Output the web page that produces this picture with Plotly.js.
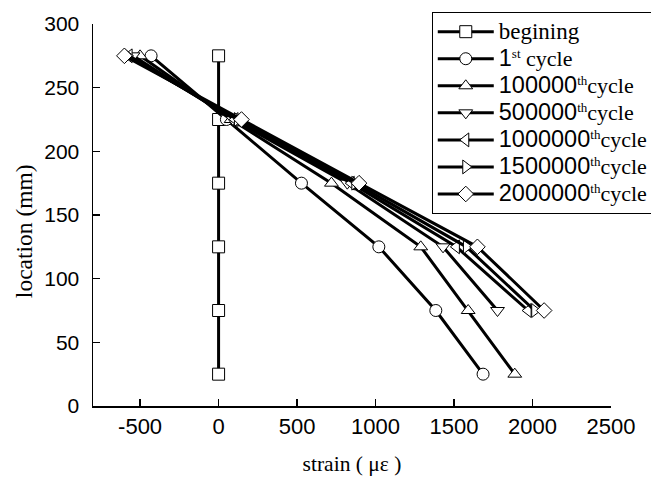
<!DOCTYPE html>
<html>
<head>
<meta charset="utf-8">
<script src="https://cdn.plot.ly/plotly-3.0.1.min.js"></script>
<style>html,body{margin:0;padding:0;background:#fff;}#chart{width:651px;height:483px;}</style>
</head>
<body>
<div id="chart"></div>
<script>
// Data
const numLabels = ['', '1', '100000', '500000', '1000000', '1500000', '2000000'];
const supLabels = ['', 'st', 'th', 'th', 'th', 'th', 'th'];
const symbols = ['square', 'circle', 'triangle-up', 'triangle-down', 'triangle-left', 'triangle-right', 'diamond'];

const xTickVals = [-500, 0, 500, 1000, 1500, 2000, 2500];
const xTickText = ['-500', '0', '500', '1000', '1500', '2000', '2500'];

const locBegin = [25, 75, 125, 175, 225, 275];
const strainBegin = [0, 0, 0, 0, 0, 0];

const loc1st = [25, 75, 125, 175, 225, 275];
const strain1st = [1685, 1384, 1021, 528, 50, -430];

const loc100k = [25, 75, 125, 175, 225, 275];
const strain100k = [1887, 1590, 1288, 719, 80, -500];

const loc500k = [75, 125, 175, 225, 275];
const strain500k = [1777, 1430, 820, 92, -545];

const loc1000k = [75, 125, 175, 225, 275];
const strain1000k = [1972, 1515, 845, 105, -570];

const loc1500k = [75, 125, 175, 225, 275];
const strain1500k = [2014, 1579, 868, 120, -580];

const loc2000k = [75, 125, 175, 225, 275];
const strain2000k = [2074, 1649, 895, 146, -600];

const xs = [strainBegin, strain1st, strain100k, strain500k, strain1000k, strain1500k, strain2000k];
const ys = [locBegin, loc1st, loc100k, loc500k, loc1000k, loc1500k, loc2000k];

function legendName(i) {
  if (i === 0) return '<span style="font-size:23px">begining</span>';
  const sep = i === 1 ? ' ' : '';
  return '<span style="font-family:Liberation Sans;font-size:23.5px">' + numLabels[i] + '</span>' +
         '<sup><span style="font-size:13px">' + supLabels[i] + '</span></sup>' +
         '<span style="font-size:22px">' + sep + 'cycle</span>';
}

const traces = xs.map((x, i) => ({
  x: x, y: ys[i], name: legendName(i), type: 'scatter', mode: 'lines+markers',
  line: {color: '#000', width: 3},
  marker: {symbol: symbols[i], size: 12, color: '#fff', line: {color: '#000', width: 1}}
}));

const layout = {
  width: 651, height: 483,
  margin: {l: 93, r: 40, t: 24, b: 77, autoexpand: false},
  paper_bgcolor: '#fff', plot_bgcolor: '#fff',
  showlegend: true,
  font: {family: 'Liberation Sans, Arial, sans-serif', color: '#000'},
  xaxis: {
    range: [-800, 2500], tickvals: xTickVals, ticktext: xTickText,
    showline: true, linecolor: '#000', linewidth: 1.5, showgrid: false, zeroline: false,
    ticks: 'inside', ticklen: 7, tickcolor: '#000', tickwidth: 1.5,
    tickfont: {size: 22, family: 'Liberation Sans, Arial, sans-serif'},
    title: {text: 'strain ( με )', font: {size: 21.5, family: 'Liberation Serif, Times New Roman, serif'}, standoff: 18}
  },
  yaxis: {
    range: [0, 300], dtick: 50,
    showline: true, linecolor: '#000', linewidth: 1.5, showgrid: false, zeroline: false,
    ticks: 'inside', ticklen: 7, tickcolor: '#000', tickwidth: 1.5,
    tickfont: {size: 21, family: 'Liberation Sans, Arial, sans-serif'},
    ticklabelstandoff: 8
  },
  annotations: [{
    text: 'location (mm)', textangle: -90, showarrow: false,
    xref: 'paper', yref: 'paper', x: -0.133, y: 0.458, xanchor: 'center', yanchor: 'middle',
    font: {size: 23.5, family: 'Liberation Serif, Times New Roman, serif', color: '#000'}
  }],
  legend: {
    x: 0.654, y: 1.031, xanchor: 'left', yanchor: 'top',
    bordercolor: '#000', borderwidth: 1, bgcolor: '#fff',
    font: {size: 18.5, family: 'Liberation Serif, Times New Roman, serif', color: '#000'},
    itemwidth: 56, tracegroupgap: 0
  }
};

Plotly.newPlot('chart', traces, layout, {staticPlot: true, displayModeBar: false});
</script>
</body>
</html>
